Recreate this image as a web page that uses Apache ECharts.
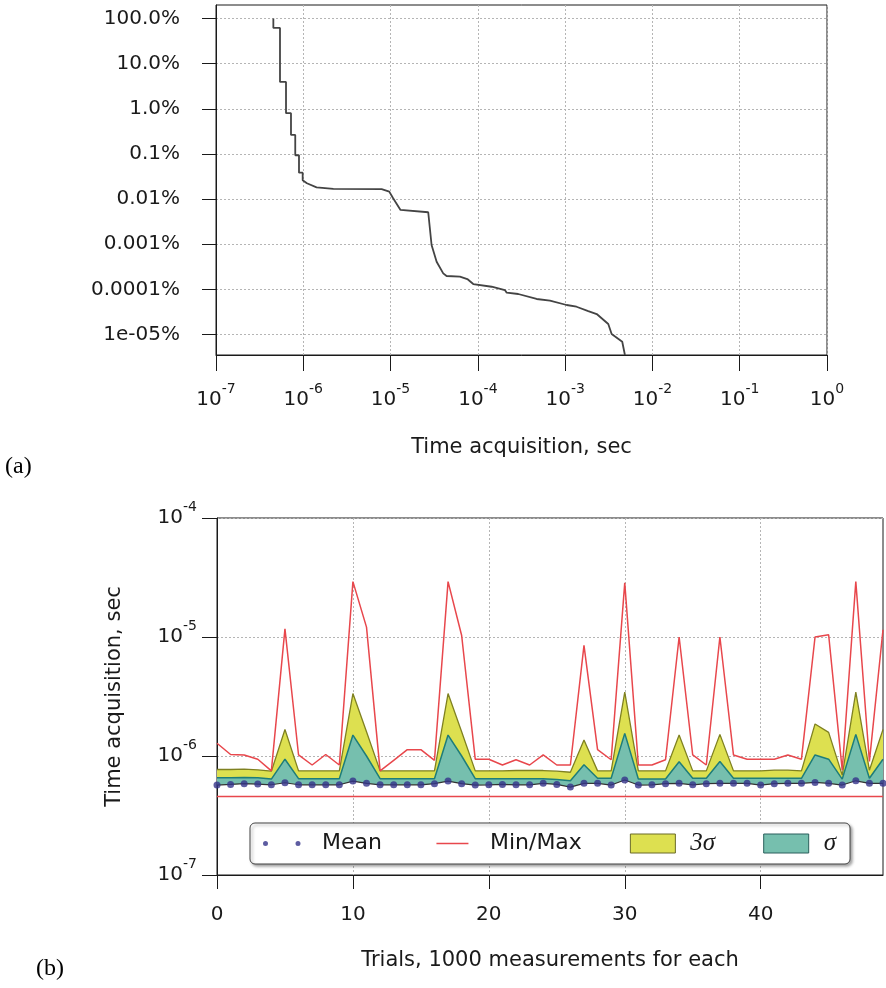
<!DOCTYPE html>
<html><head><meta charset="utf-8">
<script src="https://cdn.jsdelivr.net/npm/echarts@6/dist/echarts.min.js"></script>
<style>html,body{margin:0;padding:0;background:#fff}#c{width:886px;height:988px}</style>
</head><body><div id="c"></div>
<script>
// ---------- panel (a): complementary distribution of acquisition time ----------
const timeA = [4.54e-7, 4.54e-7, 5.41e-7, 5.41e-7, 6.34e-7, 6.34e-7, 7.23e-7, 7.23e-7, 8.09e-7, 8.09e-7,
  8.93e-7, 8.93e-7, 9.84e-7, 9.84e-7, 1.02e-6, 1.10e-6, 1.42e-6, 2.21e-6, 7.9e-6, 9.66e-6,
  1.07e-5, 1.30e-5, 1.37e-5, 2.70e-5, 2.95e-5, 3.37e-5, 4.01e-5, 4.38e-5, 6.23e-5, 7.57e-5,
  8.86e-5, 1.44e-4, 2.04e-4, 2.14e-4, 2.9e-4, 4.71e-4, 6.7e-4, 1.04e-3, 1.35e-3, 1.84e-3,
  2.30e-3, 3.12e-3, 3.41e-3, 4.51e-3, 4.84e-3];
const pctA = [100, 62, 62, 3.95, 3.95, 0.80, 0.80, 0.264, 0.264, 0.0935,
  0.0935, 0.0385, 0.0385, 0.0261, 0.0261, 0.0224, 0.0182, 0.0168, 0.0166, 0.0146,
  0.0104, 0.00573, 0.00536, 0.0051, 0.00096, 0.000409, 0.000226, 0.000197, 0.000191, 0.000169,
  0.000131, 0.000114, 0.0000964, 0.000084, 0.0000787, 0.000061, 0.0000559, 0.0000449, 0.0000411, 0.000033,
  0.0000283, 0.000017, 0.0000102, 0.0000069, 0.0000035];
const xTicksA = [1e-7, 1e-6, 1e-5, 1e-4, 1e-3, 1e-2, 1e-1, 1];
const yTicksA = [100, 10, 1, 0.1, 0.01, 0.001, 0.0001, 0.00001];
const yTickLabelsA = ['100.0%', '10.0%', '1.0%', '0.1%', '0.01%', '0.001%', '0.0001%', '1e-05%'];

// ---------- panel (b): per-trial statistics ----------
const trials = [0,1,2,3,4,5,6,7,8,9,10,11,12,13,14,15,16,17,18,19,20,21,22,23,24,
  25,26,27,28,29,30,31,32,33,34,35,36,37,38,39,40,41,42,43,44,45,46,47,48,49];
const meanB = [5.70e-7,5.77e-7,5.85e-7,5.81e-7,5.73e-7,5.96e-7,5.73e-7,5.73e-7,5.73e-7,5.73e-7,
  6.15e-7,5.89e-7,5.73e-7,5.73e-7,5.73e-7,5.73e-7,5.85e-7,6.15e-7,5.85e-7,5.70e-7,
  5.73e-7,5.77e-7,5.73e-7,5.73e-7,5.89e-7,5.77e-7,5.48e-7,5.89e-7,5.89e-7,5.70e-7,
  6.28e-7,5.70e-7,5.73e-7,5.85e-7,5.89e-7,5.72e-7,5.85e-7,5.89e-7,5.89e-7,5.89e-7,
  5.70e-7,5.85e-7,5.89e-7,5.89e-7,6.00e-7,5.89e-7,5.70e-7,6.19e-7,5.89e-7,5.89e-7];
const maxB = [1.28e-6,1.03e-6,1.02e-6,9.4e-7,7.5e-7,1.17e-5,1.02e-6,8.4e-7,1.03e-6,8.4e-7,
  2.92e-5,1.21e-5,7.5e-7,9.2e-7,1.13e-6,1.13e-6,9.2e-7,2.92e-5,1.03e-5,9.4e-7,
  9.4e-7,8.4e-7,9.3e-7,8.4e-7,1.02e-6,8.4e-7,8.4e-7,8.5e-6,1.13e-6,9.3e-7,
  2.85e-5,8.4e-7,8.4e-7,9.3e-7,1.0e-5,1.02e-6,8.4e-7,1.0e-5,1.02e-6,9.4e-7,
  9.4e-7,9.4e-7,1.02e-6,9.4e-7,1.0e-5,1.045e-5,7.6e-7,2.92e-5,9.0e-7,1.15e-5];
const minB = [4.57e-7,4.57e-7,4.57e-7,4.57e-7,4.57e-7,4.57e-7,4.57e-7,4.57e-7,4.57e-7,4.57e-7,
  4.57e-7,4.57e-7,4.57e-7,4.57e-7,4.57e-7,4.57e-7,4.57e-7,4.57e-7,4.57e-7,4.57e-7,
  4.57e-7,4.57e-7,4.57e-7,4.57e-7,4.57e-7,4.57e-7,4.57e-7,4.57e-7,4.57e-7,4.57e-7,
  4.57e-7,4.57e-7,4.57e-7,4.57e-7,4.57e-7,4.57e-7,4.57e-7,4.57e-7,4.57e-7,4.57e-7,
  4.57e-7,4.57e-7,4.57e-7,4.57e-7,4.57e-7,4.57e-7,4.57e-7,4.57e-7,4.57e-7,4.57e-7];
const top3B = [7.7e-7,7.7e-7,7.75e-7,7.65e-7,7.45e-7,1.67e-6,7.5e-7,7.5e-7,7.5e-7,7.5e-7,
  3.35e-6,1.6e-6,7.5e-7,7.5e-7,7.5e-7,7.5e-7,7.5e-7,3.35e-6,1.6e-6,7.5e-7,
  7.5e-7,7.5e-7,7.55e-7,7.55e-7,7.55e-7,7.45e-7,7.3e-7,1.36e-6,7.5e-7,7.5e-7,
  3.44e-6,7.5e-7,7.5e-7,7.5e-7,1.5e-6,7.5e-7,7.5e-7,1.52e-6,7.5e-7,7.5e-7,
  7.5e-7,7.6e-7,7.6e-7,7.5e-7,1.86e-6,1.58e-6,6.9e-7,3.44e-6,7.6e-7,1.67e-6];
const top1B = [6.55e-7,6.55e-7,6.6e-7,6.55e-7,6.4e-7,9.4e-7,6.45e-7,6.45e-7,6.45e-7,6.45e-7,
  1.5e-6,1.0e-6,6.45e-7,6.45e-7,6.45e-7,6.45e-7,6.45e-7,1.5e-6,1.0e-6,6.45e-7,
  6.45e-7,6.45e-7,6.45e-7,6.45e-7,6.45e-7,6.35e-7,6.2e-7,8.45e-7,6.5e-7,6.5e-7,
  1.55e-6,6.4e-7,6.4e-7,6.4e-7,8.96e-7,6.5e-7,6.5e-7,9.0e-7,6.5e-7,6.5e-7,
  6.5e-7,6.5e-7,6.5e-7,6.5e-7,1.02e-6,9.4e-7,6.4e-7,1.52e-6,6.5e-7,9.4e-7];
const yTicksB = [1e-7, 1e-6, 1e-5, 1e-4];

const FONT = 'DejaVu Sans';
const TXT = '#1a1a1a';
const supRich = {
  b: {fontSize: 20, fontFamily: FONT, color: TXT, verticalAlign: 'bottom', lineHeight: 28},
  s: {fontSize: 14, fontFamily: FONT, color: TXT, verticalAlign: 'top', lineHeight: 28}
};
function supLabel(v) {
  const e = Math.round(Math.log10(v));
  return '{b|10}{s|' + e + '}';
}
const gridLine = {show: true, lineStyle: {color: '#b5b5b5', type: [2, 2], width: 1}};
const axLine = {show: true, lineStyle: {color: '#1a1a1a', width: 1}};

const seriesA = timeA.map((t, i) => [t, pctA[i]]);
const d3 = top3B.map((v, i) => v - meanB[i]);
const d1 = top1B.map((v, i) => v - meanB[i]);

const chart = echarts.init(document.getElementById('c'), null, {renderer: 'canvas'});
chart.setOption({
  animation: false,
  backgroundColor: '#fff',
  grid: [
    {left: 216, top: 5, width: 611, height: 350, show: true, borderColor: '#1a1a1a', borderWidth: 1, outerBoundsMode: 'none'},
    {left: 217, top: 518, width: 666, height: 357, show: true, borderColor: '#1a1a1a', borderWidth: 1, outerBoundsMode: 'none'}
  ],
  xAxis: [
    {type: 'log', gridIndex: 0, min: 1e-7, max: 1, logBase: 10,
      axisLine: axLine,
      axisTick: {show: true, inside: false, length: 16, lineStyle: {color: '#1a1a1a'}, customValues: xTicksA},
      axisLabel: {customValues: xTicksA, formatter: supLabel, rich: supRich, margin: 27},
      splitLine: gridLine,
      name: 'Time acquisition, sec', nameLocation: 'middle', nameGap: 82,
      nameTextStyle: {fontFamily: FONT, fontSize: 21, color: TXT}},
    {type: 'category', gridIndex: 1, data: trials, boundaryGap: false,
      axisLine: axLine,
      axisTick: {show: true, inside: false, length: 14, interval: 9, lineStyle: {color: '#1a1a1a'}},
      axisLabel: {interval: 9, fontFamily: FONT, fontSize: 20, color: TXT, margin: 30},
      splitLine: {show: true, interval: 9, lineStyle: {color: '#b5b5b5', type: [2, 2], width: 1}},
      name: 'Trials, 1000 measurements for each', nameLocation: 'middle', nameGap: 75,
      nameTextStyle: {fontFamily: FONT, fontSize: 21, color: TXT}}
  ],
  yAxis: [
    {type: 'log', gridIndex: 0, min: 0.0000035, max: 200, logBase: 10,
      axisLine: axLine,
      axisTick: {show: true, inside: false, length: 14, lineStyle: {color: '#1a1a1a'}, customValues: yTicksA},
      axisLabel: {customValues: yTicksA, margin: 36, fontFamily: FONT, fontSize: 20, color: TXT,
        formatter: function (v) {
          let best = 0, bd = 1e9;
          yTicksA.forEach((t, i) => { const d = Math.abs(Math.log10(t) - Math.log10(v)); if (d < bd) { bd = d; best = i; } });
          return bd < 1e-6 ? yTickLabelsA[best] : '';
        }},
      splitLine: gridLine},
    {type: 'log', gridIndex: 1, min: 1e-7, max: 1e-4, logBase: 10,
      axisLine: axLine,
      axisTick: {show: true, inside: false, length: 15, lineStyle: {color: '#1a1a1a'}, customValues: yTicksB},
      axisLabel: {customValues: yTicksB, formatter: supLabel, rich: supRich, margin: 20, padding: [0, 0, 8, 0]},
      splitLine: gridLine,
      name: 'Time acquisition, sec', nameLocation: 'middle', nameGap: 92, nameRotate: 90,
      nameTextStyle: {fontFamily: FONT, fontSize: 21, color: TXT}}
  ],
  legend: {
    left: 250, top: 823, orient: 'horizontal', itemWidth: 45, itemHeight: 19, itemGap: 48,
    padding: [8, 14, 8, 12], backgroundColor: '#fff', borderColor: '#444', borderWidth: 1, borderRadius: 5,
    shadowColor: 'rgba(0,0,0,0.35)', shadowBlur: 3, shadowOffsetX: 2, shadowOffsetY: 2,
    selectedMode: false,
    textStyle: {fontFamily: FONT, fontSize: 22, color: TXT, padding: [0, 0, 0, 10],
      rich: {m: {fontFamily: 'Liberation Serif', fontStyle: 'italic', fontSize: 25, color: TXT}}},
    formatter: function (n) { return (n === '3σ' || n === 'σ') ? '{m|' + n + '}' : n; },
    data: [
      {name: 'Mean', icon: 'path://M0,0M45,19M1,9.5a2.5,2.5 0 1,0 5,0a2.5,2.5 0 1,0 -5,0zM33.5,9.5a2.5,2.5 0 1,0 5,0a2.5,2.5 0 1,0 -5,0z',
        itemStyle: {color: '#35338a'}},
      {name: 'Min/Max', icon: 'path://M0,0M45,19M6.5,8.8h32v1.4h-32z', itemStyle: {color: '#e8474c', borderWidth: 0}},
      {name: '3σ', icon: 'rect', itemStyle: {color: '#dde050', borderColor: '#6a6a28', borderWidth: 1}},
      {name: 'σ', icon: 'rect', itemStyle: {color: '#76bfae', borderColor: '#2a5f5c', borderWidth: 1}}
    ]
  },
  graphic: [
    {type: 'text', left: 5, top: 455, style: {text: '(a)', font: '24px "Liberation Serif"', fill: '#000'}},
    {type: 'text', left: 36, top: 957, style: {text: '(b)', font: '24px "Liberation Serif"', fill: '#000'}}
  ],
  series: [
    {name: 'distribution', type: 'line', xAxisIndex: 0, yAxisIndex: 0, data: seriesA, symbol: 'none',
      lineStyle: {color: '#444', width: 1.8}},
    {name: 'base3', type: 'line', xAxisIndex: 1, yAxisIndex: 1, stack: 's3', data: meanB, symbol: 'none',
      lineStyle: {width: 0, opacity: 0}},
    {name: '3σ', type: 'line', xAxisIndex: 1, yAxisIndex: 1, stack: 's3', data: d3, symbol: 'none',
      lineStyle: {color: '#7f8121', width: 1.3}, areaStyle: {color: '#dde050', opacity: 1}, color: '#dde050'},
    {name: 'base1', type: 'line', xAxisIndex: 1, yAxisIndex: 1, stack: 's1', data: meanB, symbol: 'none',
      lineStyle: {color: '#333', width: 1.2}},
    {name: 'σ', type: 'line', xAxisIndex: 1, yAxisIndex: 1, stack: 's1', data: d1, symbol: 'none',
      lineStyle: {color: '#1e7d7a', width: 1.5}, areaStyle: {color: '#76bfae', opacity: 1}, color: '#76bfae'},
    {name: 'Min/Max', type: 'line', xAxisIndex: 1, yAxisIndex: 1, data: maxB, symbol: 'none',
      lineStyle: {color: '#e8474c', width: 1.5}, color: '#e8474c'},
    {name: 'Min/Max', type: 'line', xAxisIndex: 1, yAxisIndex: 1, data: minB, symbol: 'none',
      lineStyle: {color: '#e8474c', width: 1.5}, color: '#e8474c'},
    {name: 'Mean', type: 'scatter', xAxisIndex: 1, yAxisIndex: 1, data: meanB, symbolSize: 7,
      itemStyle: {color: '#35338a'}, z: 5}
  ]
});
</script></body></html>
